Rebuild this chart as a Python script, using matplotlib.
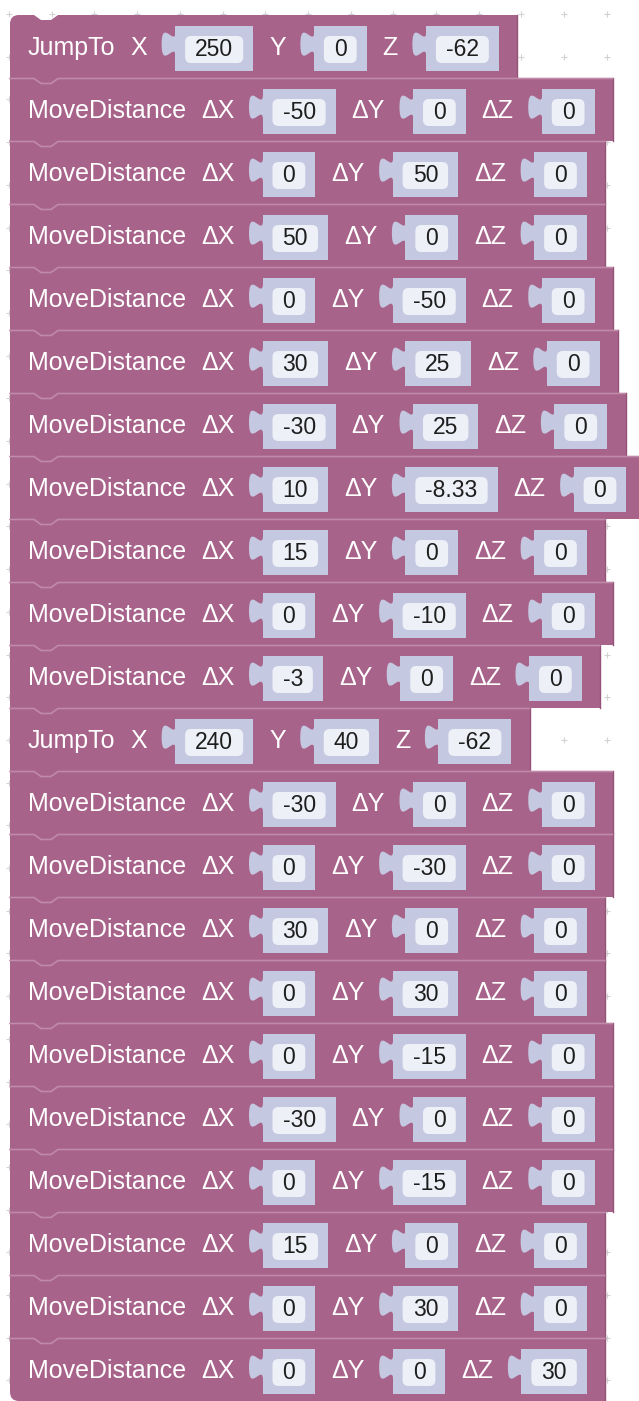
import matplotlib
matplotlib.use("Agg")
import matplotlib.pyplot as plt
from matplotlib.patches import Rectangle, FancyBboxPatch, PathPatch
from matplotlib.path import Path
import numpy as np

# block program, one row per block
ops = ["JumpTo", "MoveDistance", "MoveDistance", "MoveDistance", "MoveDistance",
       "MoveDistance", "MoveDistance", "MoveDistance", "MoveDistance", "MoveDistance",
       "MoveDistance", "JumpTo", "MoveDistance", "MoveDistance", "MoveDistance",
       "MoveDistance", "MoveDistance", "MoveDistance", "MoveDistance", "MoveDistance",
       "MoveDistance", "MoveDistance"]
x_vals = ["250", "-50", "0", "50", "0", "30", "-30", "10", "15", "0", "-3",
          "240", "-30", "0", "30", "0", "0", "-30", "0", "15", "0", "0"]
y_vals = ["0", "0", "50", "0", "-50", "25", "25", "-8.33", "0", "-10", "0",
          "40", "0", "-30", "0", "30", "-15", "0", "-15", "0", "30", "0"]
z_vals = ["-62", "0", "0", "0", "0", "0", "0", "0", "0", "0", "0",
          "-62", "0", "0", "0", "0", "0", "0", "0", "0", "0", "30"]
axis_labels = {"JumpTo": ["X", "Y", "Z"], "MoveDistance": ["ΔX", "ΔY", "ΔZ"]}

BLOCK = "#a8638a"
HILITE = "#c08aa9"
EDGE = "#94527a"
SLOT = "#c4c8e0"
FIELD = "#eef0f7"
FONT = "Liberation Sans"
LABEL_PT = 18
NUM_PT = 16.5

W, H = 639, 1401
fig = plt.figure(figsize=(W / 100, H / 100), dpi=100)
ax = fig.add_axes([0, 0, 1, 1])
ax.set_xlim(0, W)
ax.set_ylim(H, 0)
ax.axis("off")
renderer = fig.canvas.get_renderer()


def text_width(s, size):
    t = ax.text(0, 0, s, fontsize=size, family=FONT)
    w = t.get_window_extent(renderer).width
    t.remove()
    return w


# workspace dot grid
gx = np.arange(9, W, 42.7)
gy = np.arange(14, H, 42.7)
GX, GY = np.meshgrid(gx, gy)
ax.plot(GX.ravel(), GY.ravel(), "+", ms=4, mew=0.8, color="#d2d2d2", zorder=0)

left = 10
top0 = 15
row_h = 63.0
n = len(ops)


def block_path(x0, y0, w, h, r_tl, r_bl, notch):
    verts = [(x0, y0 + r_tl), (x0, y0), (x0 + r_tl, y0)]
    codes = [Path.MOVETO, Path.CURVE3, Path.CURVE3]
    if notch:
        for dx, dy in [(24, 0), (31, 5), (41, 5), (48, 0)]:
            verts.append((x0 + dx, y0 + dy))
            codes.append(Path.LINETO)
    verts += [(x0 + w, y0), (x0 + w, y0 + h), (x0 + r_bl, y0 + h),
              (x0, y0 + h), (x0, y0 + h - r_bl), (x0, y0 + r_tl)]
    codes += [Path.LINETO, Path.LINETO, Path.LINETO,
              Path.CURVE3, Path.CURVE3, Path.CLOSEPOLY]
    return Path(verts, codes)


def tab_path(bx, ty, s=1.75):
    # blockly style output tab, drawn on the left side of a value slot
    verts = [(bx, ty), (bx, ty + 10 * s), (bx - 8 * s, ty - 8 * s), (bx - 8 * s, ty + 7.5 * s),
             (bx - 8 * s, ty + 23 * s), (bx, ty + 5 * s), (bx, ty + 15 * s), (bx, ty)]
    codes = [Path.MOVETO, Path.CURVE4, Path.CURVE4, Path.CURVE4,
             Path.CURVE4, Path.CURVE4, Path.CURVE4, Path.CLOSEPOLY]
    return Path(verts, codes)


for i in range(n):
    y0 = top0 + i * row_h
    name = ops[i]
    vals = [x_vals[i], y_vals[i], z_vals[i]]
    labs = axis_labels[name]

    # layout from the text widths
    items = []
    cx = left + 18
    items.append(("label", cx, name))
    cx += text_width(name, LABEL_PT) + 15
    for lab, v in zip(labs, vals):
        items.append(("label", cx, lab))
        cx += text_width(lab, LABEL_PT) + 28
        fw = max(text_width(v, NUM_PT) + 20, 32)
        items.append(("slot", cx, (v, fw)))
        cx += fw + 20 + 16
    right = cx - 16 + 19
    bw = right - left

    p = block_path(left, y0, bw, row_h, 9 if i == 0 else 0, 9 if i == n - 1 else 0, i == 0)
    ax.add_patch(PathPatch(p, facecolor=BLOCK, edgecolor="none", zorder=2))
    ax.plot([right - 0.5, right - 0.5], [y0, y0 + row_h], color=EDGE, lw=1, zorder=3)
    if i > 0:
        hx = [left, left + 24, left + 31, left + 41, left + 48, right - 1]
        hy = [y0, y0, y0 + 5, y0 + 5, y0, y0]
        ax.plot(hx, np.array(hy) + 0.5, color=HILITE, lw=1.2, zorder=3)

    for kind, x, payload in items:
        if kind == "label":
            ax.text(x, y0 + 40, payload, fontsize=LABEL_PT, family=FONT, color="white",
                    va="baseline", ha="left", zorder=5)
        else:
            v, fw = payload
            ax.add_patch(Rectangle((x, y0 + 11), fw + 20, 45, facecolor=SLOT,
                                   edgecolor="none", zorder=3))
            ax.add_patch(PathPatch(tab_path(x + 0.5, y0 + 16), facecolor=SLOT,
                                   edgecolor="none", zorder=3))
            ax.add_patch(FancyBboxPatch((x + 10, y0 + 21), fw, 27,
                                        boxstyle="round,pad=0,rounding_size=6",
                                        facecolor=FIELD, edgecolor="none", zorder=4))
            ax.text(x + 10 + fw / 2, y0 + 41, v, fontsize=NUM_PT, family=FONT,
                    color="#1e1e1e", va="baseline", ha="center", zorder=5)

fig.savefig("out.png", dpi=100, facecolor="white")
